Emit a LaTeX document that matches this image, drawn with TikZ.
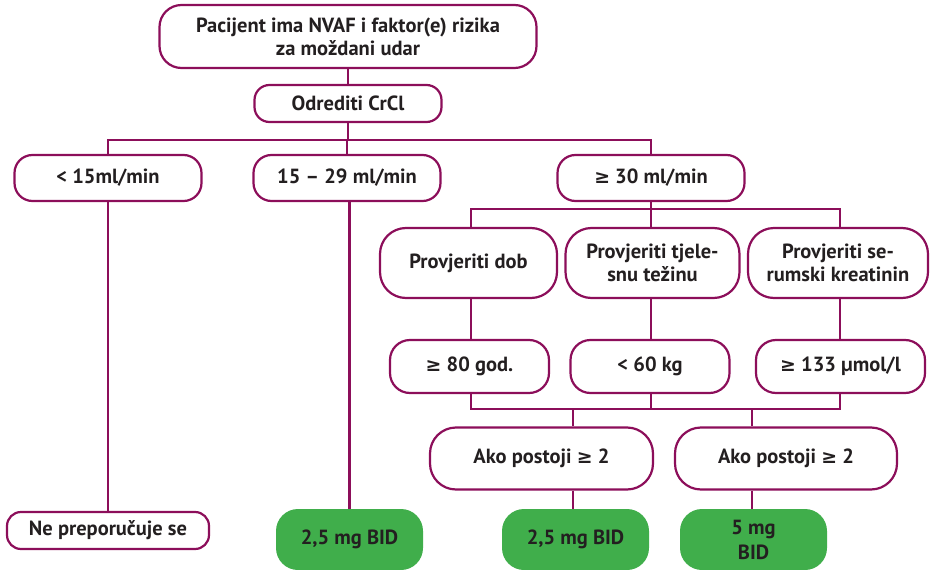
\documentclass[tikz,border=0pt]{standalone}
\usepackage{fontspec}
\setmainfont{PT Sans}
\newfontfamily\symfam[Scale=0.92]{DejaVu Sans}
\newcommand{\gesign}{{\symfam\bfseries ≥}}
\usetikzlibrary{calc}
\definecolor{plum}{RGB}{140,14,90}
\definecolor{okgreen}{RGB}{64,174,75}
\definecolor{txt}{RGB}{35,31,32}
\tikzset{
  box/.style={draw=plum, line width=2.2pt, fill=white, text=txt, font=\bfseries\fontsize{20.5}{23}\selectfont,
    align=center, inner sep=0pt, rounded corners=#1},
  box/.default=16pt,
  gbox/.style={fill=okgreen, text=txt, font=\bfseries\fontsize{20.5}{25}\selectfont, align=center,
    inner sep=0pt, rounded corners=22pt},
  conn/.style={draw=plum, line width=2.2pt},
}
\begin{document}
\begin{tikzpicture}[x=1pt,y=-1pt]
\useasboundingbox (0,0) rectangle (935,570);
% nodes
\node[box=22pt, minimum width=377pt, minimum height=63pt] (top) at (348,36.5) {Pacijent ima NVAF i faktor(e) rizika\\za moždani udar};
\node[box=15pt, minimum width=187pt, minimum height=37pt] (crcl) at (348,103.5) {Odrediti CrCl};
\node[box=18pt, minimum width=187pt, minimum height=46pt] (r15) at (108,178) {< 15ml/min};
\node[box=18pt, minimum width=187pt, minimum height=46pt] (r1529) at (347,178) {15 – 29 ml/min};
\node[box=18pt, minimum width=187pt, minimum height=46pt] (r30) at (651,178) {\gesign{} 30 ml/min};
\node[box=26pt, minimum width=177pt, minimum height=70pt] (dob) at (468.5,263) {Provjeriti dob};
\node[box=26pt, minimum width=174pt, minimum height=70pt] (tjel) at (652.5,263) {Provjeriti tjele-\\snu težinu};
\node[box=26pt, minimum width=180pt, minimum height=70pt] (serum) at (838,263) {Provjeriti se-\\rumski kreatinin};
\node[box=20pt, minimum width=159pt, minimum height=53pt] (g80) at (469.5,366.5) {\gesign{} 80 god.};
\node[box=20pt, minimum width=159pt, minimum height=53pt] (kg60) at (650,366.5) {< 60 kg};
\node[box=20pt, minimum width=169pt, minimum height=53pt] (umol) at (840.5,366.5) {\gesign{} 133 µmol/l};
\node[box=26pt, minimum width=223pt, minimum height=62pt] (ako1) at (541.5,458.5) {Ako postoji \gesign{} 2};
\node[box=26pt, minimum width=222pt, minimum height=62pt] (ako2) at (786,458.5) {Ako postoji \gesign{} 2};
\node[box=14pt, minimum width=202pt, minimum height=37pt] (ne) at (108,530.5) {Ne preporučuje se};
\node[gbox, minimum width=147pt, minimum height=61pt] (g1) at (349.5,539.5) {2,5 mg BID};
\node[gbox, minimum width=147pt, minimum height=61pt] (g2) at (575.5,539.5) {2,5 mg BID};
\node[gbox, minimum width=147pt, minimum height=61pt] (g3) at (753.5,539.5) {5 mg\\BID};
% bus coordinates
\coordinate (b1) at (348,140);
\coordinate (b2) at (651,209);
\coordinate (b3) at (573,409);
\coordinate (b4) at (752,409);
% connectors
\draw[conn] (top.south) -- (crcl.north);
\draw[conn] (crcl.south) -- (b1);
\draw[conn] (r15.north) |- (b1) -| (r30.north);
\draw[conn] (b1 -| r1529.north) -- (r1529.north);
\draw[conn] (r15.south) -- (r15.south |- ne.north);
\draw[conn] (r1529.south -| g1.north) -- (g1.north);
\draw[conn] (r30.south) -- (b2);
\draw[conn] (dob.north -| 471,0) |- (b2) -| (serum.north -| 840,0);
\draw[conn] (b2) -- (b2 |- tjel.north);
\draw[conn] (dob.south -| 471,0) -- (g80.north -| 471,0);
\draw[conn] (tjel.south -| 651,0) -- (kg60.north -| 651,0);
\draw[conn] (serum.south -| 840,0) -- (umol.north -| 840,0);
\draw[conn] (g80.south -| 471,0) |- (b3) -| (umol.south -| 840,0);
\draw[conn] (kg60.south -| 651,0) -- (b3 -| 651,0);
\draw[conn] (b3) -- (b3 |- ako1.north);
\draw[conn] (b4) -- (b4 |- ako2.north);
\draw[conn] (ako1.south -| b3) -- (g2.north -| b3);
\draw[conn] (ako2.south -| b4) -- (g3.north -| b4);
\end{tikzpicture}
\end{document}
